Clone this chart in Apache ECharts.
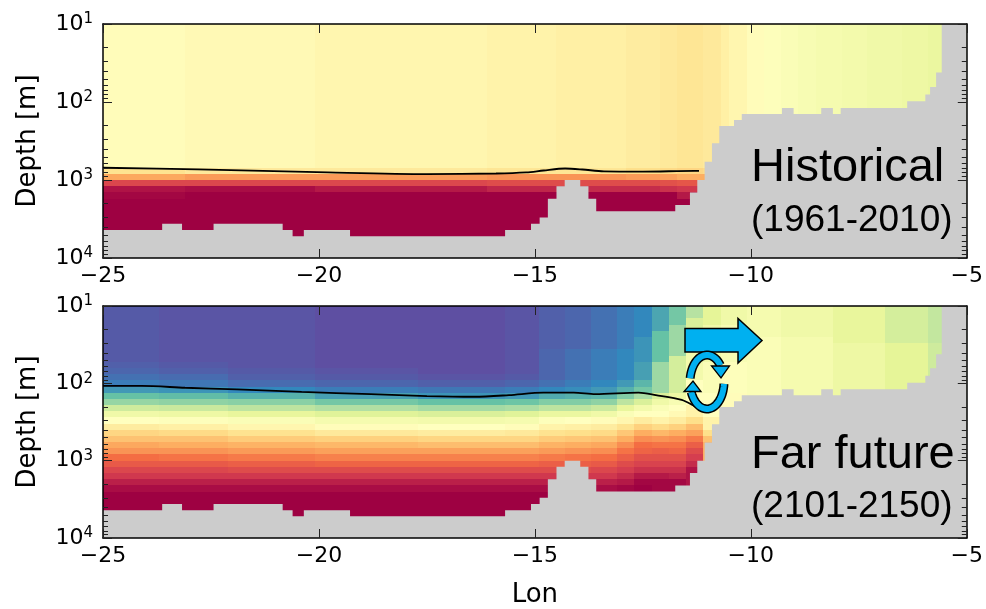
<!DOCTYPE html>
<html>
<head>
<meta charset="utf-8">
<script src="https://cdn.jsdelivr.net/npm/echarts@6/dist/echarts.min.js"></script>
<style>
  html, body { margin: 0; padding: 0; background: #fff; }
  #chart { width: 986px; height: 609px; }
</style>
</head>
<body>
<div id="chart"></div>
<script>
// ---- Section grid -------------------------------------------------------
// Longitude cells: centres every 0.2 deg from 25W to 5W
const lonFirst = -25;
const lonStep = 0.2;

// Boundaries of the model depth levels (m)
const depthEdges = [10, 12.0, 14.5, 17.4, 20.9, 25.1, 30.2, 36.3, 43.7, 52.5,
  63.1, 75.9, 91.2, 110, 132, 158, 191, 229, 275, 331, 398, 479, 575, 692,
  832, 1000, 1202, 1445, 1738, 2089, 2512, 3020, 3631, 4365, 5248, 6310];

// Sea floor: [longitude where the step starts, bottom depth (m)]
const seafloor = [[-25.0, 4365], [-23.63, 3631], [-23.17, 4365], [-22.44, 3631],
  [-20.84, 4365], [-20.61, 5248], [-20.35, 4365], [-19.28, 5248], [-15.69, 4365],
  [-15.09, 3631], [-14.89, 3020], [-14.70, 1738], [-14.50, 1202], [-14.31, 1000],
  [-13.95, 1202], [-13.76, 1738], [-13.58, 2512], [-11.75, 2089], [-11.41, 1445],
  [-11.24, 1000], [-11.07, 582], [-10.90, 339], [-10.73, 203], [-10.39, 170],
  [-10.21, 143], [-9.28, 119], [-9.01, 143], [-8.37, 119], [-8.10, 143],
  [-7.92, 119], [-6.38, 98], [-5.96, 80], [-5.85, 64], [-5.71, 42], [-5.58, 10]];

// ---- Historical (1961-2010) field ----------------------------------------
// Number of 0.2-deg columns sharing each vertical profile (west -> east)
const histGroupCols = [10, 15, 20, 8, 8, 4, 2, 3, 2, 1, 2, 2, 2, 2, 2, 3, 3, 4, 3, 5];
// Profiles per depth level on a 0-100 colour scale; [value, n] repeats a value n levels
const histProfiles = [
  [[51, 23], 59, 71, 88, 97, 99, [100, 7]],
  [[52, 23], 57, 73, 88, 98, [100, 8]],
  [[53, 23], 57, 73, 88, 96, [100, 8]],
  [[54, 23], 58, 74, 87, 94, [100, 8]],
  [[55, 23], 58, 74, 87, 93, [100, 8]],
  [[56, 23], 60, 73, 87, 93, [100, 8]],
  [[57, 23], 61, 72, 86, 92, [100, 8]],
  [[58, 23], 62, 70, 85, 91, 96, [100, 7]],
  [[57, 23], 61, 70, [85, 10]],
  [[55, 35]], [[53, 35]], [[51, 35]], [[49, 35]], [[48, 35]], [[47, 35]],
  [[46, 35]], [[45, 35]], [[44, 35]], [[43, 35]], [[42, 35]]
];
const histContour = [[-25, 697], [-22.8, 732], [-19.8, 800], [-17.5, 840],
  [-15.9, 826], [-15.2, 800], [-14.8, 755], [-14.3, 712], [-13.9, 733],
  [-13.4, 775], [-12.5, 780], [-11.3, 765], [-11.2, 765]];

// ---- Far future (2101-2150) field ------------------------------------------
const futureGroupCols = [7, 8, 10, 12, 10, 4, 3, 3, 3, 2, 2, 2, 2, 2, 2, 3, 4, 6, 6, 5, 5];
const futureProfiles = [
  [[2, 9], 3, 4, 6, 8, 13, 20, 27, 36, 44, 50, 56, 62, 66, 71, 74, 80, 84, 88, 91, 95, 98, [100, 5]],
  [[1, 9], 2, 3, 5, 7, 12, 19, 26, 35, 43, 49, 55, 61, 66, 70, 74, 79, 84, 88, 91, 95, 98, [100, 5]],
  [[1, 10], 2, 3, 5, 10, 17, 25, 33, 41, 48, 53, 59, 64, 69, 73, 78, 83, 87, 91, 95, 98, [100, 5]],
  [[0, 10], 1, 2, 4, 8, 14, 22, 31, 39, 46, 51, 57, 63, 68, 72, 77, 82, 87, 91, 95, 98, [100, 5]],
  [[0, 11], 1, 3, 7, 12, 20, 29, 38, 45, 50, 56, 62, 67, 72, 77, 82, 87, 91, 95, 98, [100, 5]],
  [[1, 11], 2, 4, 8, 13, 21, 30, 39, 46, 51, 57, 62, 67, 72, 77, 82, 87, 91, 95, 98, [100, 5]],
  [[3, 7], [4, 5], 6, 10, 16, 24, 33, 42, 49, 54, 59, 64, 69, 73, 78, 83, 87, 91, 95, 98, [100, 5]],
  [[4, 7], [6, 5], 8, 11, 17, 24, 33, 42, 50, 55, 60, 65, 70, 74, 79, 83, 87, 91, 95, 98, [100, 5]],
  [[6, 7], [8, 5], 10, 13, 18, 26, 35, 44, 51, 56, 61, 66, 71, 75, 80, 84, 88, 91, 95, 98, [100, 5]],
  [[8, 7], [10, 5], 13, 17, 24, 33, 41, 48, 53, 59, 65, 70, 75, 79, 83, 87, 90, 93, 96, 99, [100, 5]],
  [[10, 5], [12, 4], [14, 3], 18, 22, 30, 38, 45, 50, 56, 63, 70, 75, 80, 82, 86, 89, 92, 96, 99, [100, 5]],
  [[15, 4], [20, 5], [28, 5], 38, 44, 48, 50, 54, 61, 68, 74, 79, 83, 86, 89, 92, 96, [99, 7]],
  [[22, 3], [28, 5], [37, 6], 43, 47, 50, 52, 56, 63, 70, 75, 79, 82, 86, 89, 92, 95, [99, 7]],
  [[32, 2], [38, 5], [45, 5], [50, 4], [54, 2], 60, 67, 72, 78, 83, 87, 90, 93, [97, 9]],
  [[40, 3], [44, 6], [48, 5], [50, 4], [54, 2], 60, 66, [70, 13]],
  [[44, 3], [47, 6], [49, 5], [51, 21]],
  [[46, 5], [48, 30]],
  [[44, 5], [46, 30]],
  [[41, 6], [43, 29]],
  [[37, 6], [40, 29]],
  [[34, 6], [36, 29]]
];
const futureContour = [[-25, 108], [-24.1, 108], [-23.1, 114], [-21.9, 120],
  [-20.4, 129], [-18.8, 138], [-17.5, 146], [-16.4, 149], [-15.6, 142],
  [-14.8, 132], [-14.1, 132], [-13.6, 138], [-12.6, 132], [-12.2, 142],
  [-11.6, 164], [-11.2, 210], [-10.95, 227]];

// Spectral colour map, low values purple -> high values dark red
const SPECTRAL_R = ['#5e4fa2', '#3288bd', '#66c2a5', '#abdda4', '#e6f598', '#ffffbf',
  '#fee08b', '#fdae61', '#f46d43', '#d53e4f', '#9e0142'];

const LON_MIN = -25, LON_MAX = -5;
const FONT_AX = 'DejaVu Sans';
const FONT_TXT = '"Liberation Sans", Arial, sans-serif';

function expand(profile) {
  const out = [];
  profile.forEach(e => {
    if (Array.isArray(e)) { for (let i = 0; i < e[1]; i++) out.push(e[0]); }
    else out.push(e);
  });
  return out;
}

// Cells: [lon centre, depth centre, value, level index]
function buildCells(groupCols, profiles) {
  const cells = [];
  let c = 0;
  groupCols.forEach((n, g) => {
    const col = expand(profiles[g]);
    for (let k = 0; k < n; k++, c++) {
      const lon = lonFirst + c * lonStep;
      col.forEach((v, r) => {
        cells.push([lon, Math.sqrt(depthEdges[r] * depthEdges[r + 1]), v, r]);
      });
    }
  });
  return cells;
}

function renderCell(params, api) {
  const lon = api.value(0);
  const r = api.value(3);
  const half = lonStep / 2;
  const p0 = api.coord([Math.max(lon - half, LON_MIN), depthEdges[r]]);
  const p1 = api.coord([Math.min(lon + half, LON_MAX), depthEdges[r + 1]]);
  const x0 = Math.round(p0[0]), x1 = Math.round(p1[0]);
  const y0 = Math.round(p0[1]), y1 = Math.round(p1[1]);
  return {
    type: 'rect',
    shape: { x: x0, y: y0, width: x1 - x0, height: y1 - y0 },
    style: { fill: api.visual('color') }
  };
}

function renderFloor(params, api) {
  const pts = [api.coord([LON_MIN, 10000])];
  seafloor.forEach((s, i) => {
    const next = i + 1 < seafloor.length ? seafloor[i + 1][0] : LON_MAX;
    pts.push(api.coord([s[0], s[1]]));
    pts.push(api.coord([next, s[1]]));
  });
  pts.push(api.coord([LON_MAX, 10000]));
  return { type: 'polygon', shape: { points: pts }, style: { fill: '#cccccc' } };
}

const minorDepths = [];
[10, 100, 1000].forEach(b => { for (let m = 2; m <= 9; m++) minorDepths.push(m * b); });

function renderMinorTicks(params, api) {
  const children = [];
  minorDepths.forEach(d => {
    const l = api.coord([LON_MIN, d]);
    const r = api.coord([LON_MAX, d]);
    const y = Math.round(l[1]) + 0.5;
    children.push({ type: 'line', shape: { x1: l[0], y1: y, x2: l[0] + 5, y2: y },
      style: { stroke: '#222', lineWidth: 1 } });
    children.push({ type: 'line', shape: { x1: r[0], y1: y, x2: r[0] - 5, y2: y },
      style: { stroke: '#222', lineWidth: 1 } });
  });
  return { type: 'group', children };
}

function lonAxis(gridIndex, position, labels, name) {
  return {
    type: 'value', gridIndex, position, min: LON_MIN, max: LON_MAX, interval: 5, z: 10,
    axisLine: { show: true, onZero: false, lineStyle: { color: '#000', width: 1.5 } },
    axisTick: { show: true, inside: true, length: 9, lineStyle: { color: '#222', width: 1 } },
    axisLabel: labels ? {
      formatter: v => (v < 0 ? '\u2212' : '') + Math.abs(v),
      fontFamily: FONT_AX, fontSize: 22, color: '#000', margin: 7
    } : { show: false },
    splitLine: { show: false },
    name: name || '', nameLocation: 'middle', nameGap: 44,
    nameTextStyle: { fontFamily: FONT_AX, fontSize: 26, color: '#000' }
  };
}

function depthAxis(gridIndex, position, labels) {
  return {
    type: 'log', logBase: 10, gridIndex, position, min: 10, max: 10000, inverse: true, z: 10,
    axisLine: { show: true, lineStyle: { color: '#000', width: 1.5 } },
    axisTick: { show: true, inside: true, length: 9, lineStyle: { color: '#222', width: 1 } },
    axisLabel: labels ? {
      formatter: v => '{b|10}{s|' + Math.round(Math.log10(v)) + '}',
      margin: 10,
      rich: {
        b: { fontFamily: FONT_AX, fontSize: 22, color: '#000', lineHeight: 24 },
        s: { fontFamily: FONT_AX, fontSize: 15, color: '#000', lineHeight: 14, verticalAlign: 'top' }
      }
    } : { show: false },
    splitLine: { show: false },
    name: labels ? 'Depth [m]' : '', nameLocation: 'middle', nameGap: 62,
    nameTextStyle: { fontFamily: FONT_AX, fontSize: 26, color: '#000' }
  };
}

function panelSeries(g, cells, contour) {
  return [
    { type: 'custom', xAxisIndex: g * 2, yAxisIndex: g * 2, data: cells,
      encode: { x: 0, y: 1 }, renderItem: renderCell, silent: true, z: 1, animation: false },
    { type: 'custom', xAxisIndex: g * 2, yAxisIndex: g * 2, data: [[-15, 100]],
      encode: { x: 0, y: 1 }, renderItem: renderFloor, silent: true, z: 2, animation: false },
    { type: 'line', xAxisIndex: g * 2, yAxisIndex: g * 2, data: contour,
      showSymbol: false, symbol: 'none', smooth: 0.3, silent: true, z: 5,
      lineStyle: { color: '#000', width: 1.8 }, animation: false },
    { type: 'custom', xAxisIndex: g * 2, yAxisIndex: g * 2, data: [[-15, 100]],
      encode: { x: 0, y: 1 }, renderItem: renderMinorTicks, silent: true, z: 12, animation: false }
  ];
}

// ---- Circulation arrows (pixel layout of the annotation) ------------------
const CYAN = '#00b0f0';
function ellipseArc(cx, cy, rx, ry, t0, t1, n) {
  const pts = [];
  for (let i = 0; i <= n; i++) {
    const t = (t0 + (t1 - t0) * i / n) * Math.PI / 180;
    pts.push([cx + rx * Math.cos(t), cy - ry * Math.sin(t)]);
  }
  return pts;
}
const upperArc = ellipseArc(707, 382, 17, 27, 172, 38, 30);
const lowerArc = ellipseArc(707, 382, 17, 27, -4, -158, 30);

function bandArrow(points) {
  return [
    { type: 'polyline', shape: { points }, style: { stroke: '#000', lineWidth: 9, fill: null, lineCap: 'butt' }, z: 100 },
    { type: 'polyline', shape: { points }, style: { stroke: CYAN, lineWidth: 6, fill: null, lineCap: 'butt' }, z: 101 }
  ];
}

const graphicElements = [
  { type: 'polygon', z: 100,
    shape: { points: [[685, 328.5], [738, 328.5], [738, 318.5], [762, 340.5], [738, 363], [738, 352], [685, 352]] },
    style: { fill: CYAN, stroke: '#000', lineWidth: 1.5 } },
  ...bandArrow(upperArc),
  { type: 'polygon', z: 102,
    shape: { points: [[711.5, 366], [729.5, 366], [721, 378]] },
    style: { fill: CYAN, stroke: '#000', lineWidth: 1.3 } },
  ...bandArrow(lowerArc),
  { type: 'polygon', z: 102,
    shape: { points: [[684, 391.5], [701, 391.5], [693, 381]] },
    style: { fill: CYAN, stroke: '#000', lineWidth: 1.3 } },
  { type: 'text', x: 751, y: 168, z: 110,
    style: { text: 'Historical', font: '47px ' + FONT_TXT, fill: '#000',
      align: 'left', verticalAlign: 'middle', textAlign: 'left', textVerticalAlign: 'middle' } },
  { type: 'text', x: 751, y: 221, z: 110,
    style: { text: '(1961-2010)', font: '37px ' + FONT_TXT, fill: '#000',
      align: 'left', verticalAlign: 'middle', textAlign: 'left', textVerticalAlign: 'middle' } },
  { type: 'text', x: 751, y: 455, z: 110,
    style: { text: 'Far future', font: '47px ' + FONT_TXT, fill: '#000',
      align: 'left', verticalAlign: 'middle', textAlign: 'left', textVerticalAlign: 'middle' } },
  { type: 'text', x: 751, y: 507, z: 110,
    style: { text: '(2101-2150)', font: '37px ' + FONT_TXT, fill: '#000',
      align: 'left', verticalAlign: 'middle', textAlign: 'left', textVerticalAlign: 'middle' } }
];

const chart = echarts.init(document.getElementById('chart'), null, { renderer: 'canvas' });
chart.setOption({
  animation: false,
  backgroundColor: '#ffffff',
  grid: [
    { left: 103, top: 24, width: 874, height: 234 },
    { left: 103, top: 306, width: 874, height: 236 }
  ],
  xAxis: [lonAxis(0, 'bottom', true), lonAxis(0, 'top', false),
          lonAxis(1, 'bottom', true, 'Lon'), lonAxis(1, 'top', false)],
  yAxis: [depthAxis(0, 'left', true), depthAxis(0, 'right', false),
          depthAxis(1, 'left', true), depthAxis(1, 'right', false)],
  visualMap: {
    show: false, type: 'continuous', min: 0, max: 100, dimension: 2,
    seriesIndex: [0, 4], inRange: { color: SPECTRAL_R }
  },
  series: [
    ...panelSeries(0, buildCells(histGroupCols, histProfiles), histContour),
    ...panelSeries(1, buildCells(futureGroupCols, futureProfiles), futureContour)
  ],
  graphic: { elements: graphicElements }
});
</script>
</body>
</html>
